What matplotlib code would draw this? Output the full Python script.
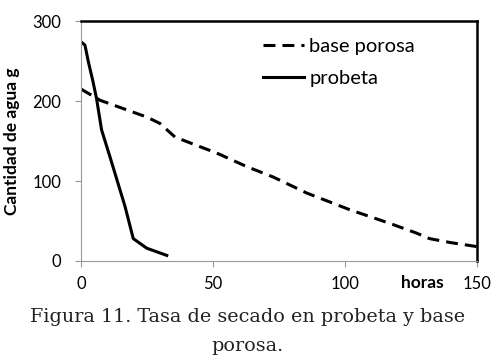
import numpy as np
import matplotlib
matplotlib.use('Agg')
import matplotlib.pyplot as plt

# probeta (test specimen) drying curve
probeta_h = [0, 1.5, 2.8, 4.5, 5.9, 7.8, 11, 16.7, 19.8, 24.9, 32.5]
probeta_g = [274, 270, 249, 225, 203, 164, 130, 68, 28, 16, 7]

# base porosa drying curve
base_h = [0, 7.2, 17.3, 24.9, 29.9, 35.6, 45, 51.4, 62.8, 72.8, 85.5,
          101.9, 117, 127, 132, 140, 150]
base_g = [215, 201, 189, 180, 172, 155, 143, 135, 118, 105, 85,
          64, 47, 35, 28, 23, 18]

x_ticks = [0, 50, 100, 150]
y_ticks = [0, 100, 200, 300]

plt.rcParams['font.family'] = ['Lato', 'DejaVu Sans']

fig = plt.figure(figsize=(4.95, 3.63), dpi=100)
ax = fig.add_axes([0.1636, 0.281, 0.80, 0.661])

ax.plot(base_h, base_g, color='black', lw=2.2, dashes=(3.9, 2.3),
        label='base porosa')
ax.plot(probeta_h, probeta_g, color='black', lw=2.2, label='probeta')

ax.set_xlim(0, 150)
ax.set_ylim(0, 300)
ax.set_xticks(x_ticks)
ax.set_yticks(y_ticks)
ax.tick_params(axis='both', direction='out', length=4, color='#999999',
               labelsize=12)
ax.tick_params(axis='x', pad=7)
ax.tick_params(axis='y', pad=10)

for side in ['top', 'right']:
    ax.spines[side].set_color('black')
    ax.spines[side].set_linewidth(1.8)
for side in ['left', 'bottom']:
    ax.spines[side].set_color('#999999')
    ax.spines[side].set_linewidth(0.8)

ax.set_ylabel('Cantidad de agua g', fontsize=12.5, fontweight='bold',
              labelpad=9)
fig.text(0.853, 0.22, 'horas', fontsize=12.5, fontweight='bold',
         ha='center', va='center')

ax.legend(loc='upper left', bbox_to_anchor=(0.46, 0.93), frameon=False,
          fontsize=14.5, handlelength=2.05, handletextpad=0.25,
          labelspacing=0.75, borderpad=0, borderaxespad=0)

fig.text(0.5, 0.127, 'Figura 11. Tasa de secado en probeta y base',
         family='DejaVu Serif', fontsize=13.8, ha='center', va='center',
         color='#222222')
fig.text(0.5, 0.047, 'porosa.', family='DejaVu Serif', fontsize=13.8,
         ha='center', va='center', color='#222222')

fig.savefig('out.png', dpi=100)
